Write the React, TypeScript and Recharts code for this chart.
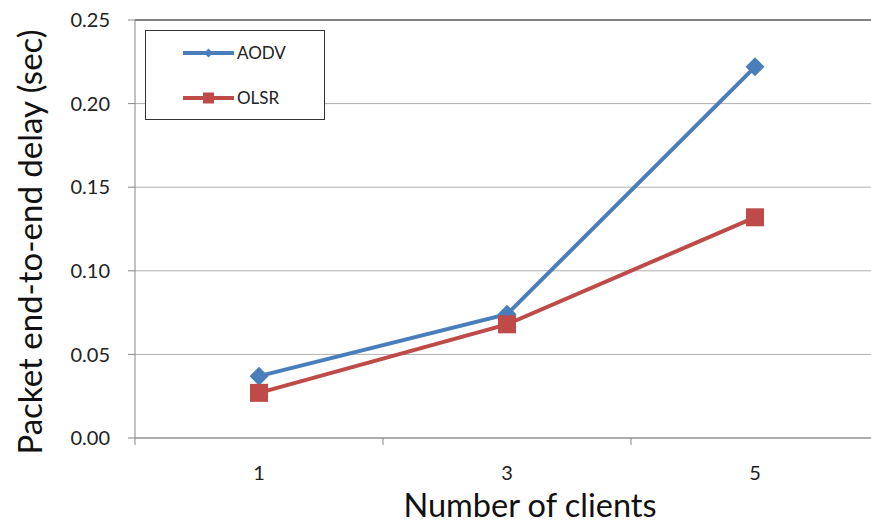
import React from 'react';
import { LineChart, Line, XAxis, YAxis, CartesianGrid, ReferenceLine } from 'recharts';

const clients = [1, 3, 5];
const aodv = [0.037, 0.074, 0.222];
const olsr = [0.027, 0.068, 0.132];
const yTicks = [0, 0.05, 0.1, 0.15, 0.2, 0.25];
const xTicks = [0, 1, 2, 3, 4, 5, 6];

const data = clients.map((c, i) => ({ x: c, aodv: aodv[i], olsr: olsr[i] }));

const BLUE = '#4a7ebb';
const RED = '#be4b48';
const FONT = 'Lato, "Open Sans", sans-serif';

const Diamond = (props: any) => {
  const { cx, cy } = props;
  if (cx == null || cy == null) return null;
  const r = 9.5;
  return <path d={`M${cx},${cy - r}L${cx + r},${cy}L${cx},${cy + r}L${cx - r},${cy}Z`} fill={BLUE} />;
};
const Square = (props: any) => {
  const { cx, cy } = props;
  if (cx == null || cy == null) return null;
  const r = 9;
  return <rect x={cx - r} y={cy - r} width={2 * r} height={2 * r} fill={RED} />;
};

const XTick = (props: any) => {
  const { x, y, payload } = props;
  const v = payload.value;
  if (v % 2 === 0) {
    return <line x1={x} y1={y - 8} x2={x} y2={y - 1} stroke="#868686" strokeWidth={1} />;
  }
  return (
    <text x={x} y={y + 34} textAnchor="middle" fontSize={20} fill="#222" fontFamily={FONT}>
      {v}
    </text>
  );
};

const YTitle = () => (
  <text
    x={0}
    y={0}
    transform="translate(42,242) rotate(-90)"
    textAnchor="middle"
    fontSize={33}
    fill="#111"
    fontFamily={FONT}
  >
    Packet end-to-end delay (sec)
  </text>
);

const XTitle = () => (
  <text x={530} y={517} textAnchor="middle" fontSize={32.5} fill="#111" fontFamily={FONT}>
    Number of clients
  </text>
);

const LegendBox = () => (
  <div
    style={{
      position: 'absolute',
      left: 145,
      top: 30,
      width: 178,
      height: 88,
      border: '1.5px solid #333',
      background: '#fff',
    }}
  >
    <svg width={178} height={88} style={{ position: 'absolute', left: 0, top: 0 }}>
      <line x1={37} y1={22} x2={88} y2={22} stroke={BLUE} strokeWidth={4} />
      <path d="M62.5,17.5L67,22L62.5,26.5L58,22Z" fill={BLUE} />
      <text x={91} y={28} fontSize={17} fill="#222" fontFamily={FONT}>AODV</text>
      <line x1={37} y1={67} x2={88} y2={67} stroke={RED} strokeWidth={4} />
      <rect x={57} y={61.5} width={11} height={11} fill={RED} />
      <text x={91} y={73} fontSize={17} fill="#222" fontFamily={FONT}>OLSR</text>
    </svg>
  </div>
);

export default function App() {
  return (
    <div style={{ position: 'absolute', left: 0, top: 0, width: 871, height: 523, background: '#fff', overflow: 'hidden' }}>
      <LineChart
        width={871}
        height={523}
        data={data}
        margin={{ top: 20, right: -8, bottom: 0, left: 0 }}
      >
        <CartesianGrid horizontal vertical={false} stroke="#b0b0b0" strokeWidth={1} />
        <ReferenceLine y={0.25} stroke="#666" strokeWidth={1.5} />
        <XAxis
          dataKey="x"
          type="number"
          domain={[0, 6]}
          ticks={xTicks}
          interval={0}
          height={85}
          axisLine={{ stroke: '#868686' }}
          tickLine={false}
          tick={<XTick />}
          label={{ content: <XTitle /> }}
        />
        <YAxis
          type="number"
          domain={[0, 0.25]}
          ticks={yTicks}
          interval={0}
          width={135}
          axisLine={{ stroke: '#868686' }}
          tickLine={{ stroke: '#868686' }}
          tickSize={7}
          tickMargin={18}
          tickFormatter={(v: number) => v.toFixed(2)}
          tick={{ fontSize: 20, fill: '#222', fontFamily: FONT }}
          label={{ content: <YTitle /> }}
        />
        <Line
          dataKey="aodv"
          name="AODV"
          stroke={BLUE}
          strokeWidth={4}
          dot={<Diamond />}
          activeDot={false}
          isAnimationActive={false}
        />
        <Line
          dataKey="olsr"
          name="OLSR"
          stroke={RED}
          strokeWidth={4}
          dot={<Square />}
          activeDot={false}
          isAnimationActive={false}
        />
      </LineChart>
      <LegendBox />
    </div>
  );
}
